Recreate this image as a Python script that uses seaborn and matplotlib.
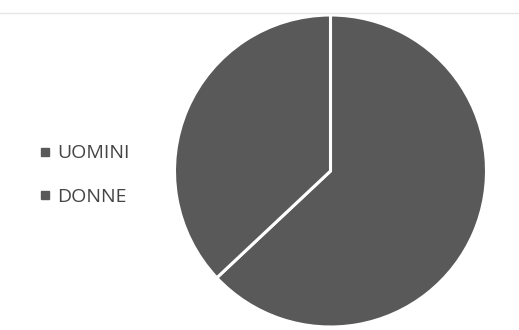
import matplotlib
matplotlib.use("Agg")
import matplotlib.pyplot as plt
from matplotlib.lines import Line2D
import seaborn as sns

categories = ["UOMINI", "DONNE"]
values = [63, 37]
colors = ["#595959", "#595959"]

sns.set_theme(style="white")
plt.rcParams["font.family"] = ["Open Sans", "DejaVu Sans"]

fig = plt.figure(figsize=(5.19, 3.30), dpi=100)
fig.patch.set_facecolor("white")

ax = fig.add_axes([174.5 / 519, 3 / 330, 312 / 519, 312 / 330])
ax.pie(values, colors=colors, startangle=90, counterclock=False,
       radius=1.0, wedgeprops=dict(edgecolor="white", linewidth=2.2))
ax.set_xlim(-1.0, 1.0)
ax.set_ylim(-1.0, 1.0)
ax.set_aspect("equal")
ax.axis("off")

# faint frame line along the top of the chart area
fig.add_artist(Line2D([0.0, 1.0], [1 - 13 / 330, 1 - 13 / 330],
                      transform=fig.transFigure, color="#e6e6e6", lw=1.0))

handles = [Line2D([0], [0], marker="s", linestyle="none", markersize=5.5,
                  markerfacecolor=c, markeredgecolor=c) for c in colors]
leg = fig.legend(handles, categories, loc="center left",
                 bbox_to_anchor=(23 / 519, 1 - 175 / 330), frameon=False,
                 fontsize=14, labelspacing=1.3, handlelength=0.5,
                 handletextpad=0.35, labelcolor="#454545")

fig.savefig("out.png", dpi=100, facecolor="white")
